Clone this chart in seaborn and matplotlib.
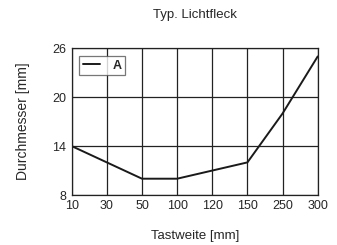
import matplotlib
matplotlib.use("Agg")
import matplotlib.pyplot as plt
import seaborn as sns
import pandas as pd

# Data
tick_labels = ["10", "30", "50", "100", "120", "150", "250", "300"]
point_x = ["10", "50", "100", "150", "250", "300"]
point_y = [14, 10, 10, 12, 18, 25]
y_ticks = [8, 14, 20, 26]

sns.set_style("white")
plt.rcParams['font.family'] = ['Liberation Sans', 'DejaVu Sans']

df = pd.DataFrame({
    "pos": [tick_labels.index(x) for x in point_x],
    "diam": point_y,
})

fig = plt.figure(figsize=(3.37, 2.45), dpi=100)
ax = fig.add_axes([71.7 / 337, 1 - 195 / 245, (317.7 - 71.7) / 337, (195 - 48.3) / 245])

sns.lineplot(data=df, x="pos", y="diam", ax=ax, color="#1a1a1a", linewidth=1.4, label="A")

ax.set_xlim(0, len(tick_labels) - 1)
ax.set_ylim(8, 26)
ax.set_xticks(range(len(tick_labels)))
ax.set_xticklabels(tick_labels)
ax.set_yticks(y_ticks)
ax.grid(True, color="#222222", linewidth=0.9)
for s in ax.spines.values():
    s.set_color("#222222")
    s.set_linewidth(0.9)
ax.tick_params(axis="y", labelsize=9, length=3, width=0.9, pad=0.8, color="#222222")
ax.tick_params(axis="x", labelsize=9, length=0, pad=3.6)

ax.set_xlabel("Tastweite [mm]", fontsize=9.5, labelpad=13)
ax.set_ylabel("Durchmesser [mm]", fontsize=10, labelpad=16)
fig.text(0.5 * (71.7 + 317.7) / 337, 1 - 15 / 245, "Typ. Lichtfleck", ha="center", va="center", fontsize=9.5)

leg = ax.legend(loc="upper left", frameon=True, fancybox=False, handlelength=1.35,
                borderpad=0.3, handletextpad=1.0, borderaxespad=0.6, fontsize=9)
leg.get_frame().set_edgecolor("#555555")
leg.get_frame().set_linewidth(0.9)
for t in leg.get_texts():
    t.set_fontweight("bold")

fig.savefig("out.png", dpi=100)
